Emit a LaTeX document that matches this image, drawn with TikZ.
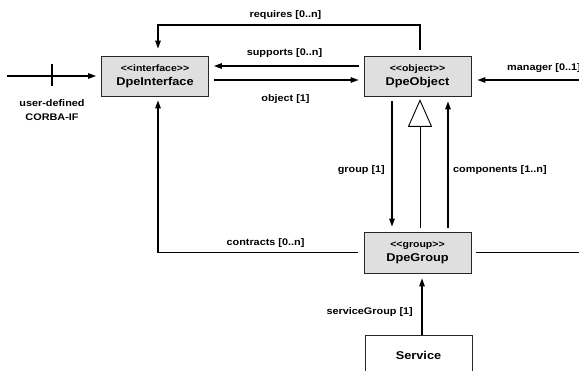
\documentclass[tikz,border=0pt]{standalone}
\usepackage{fontspec}
\setmainfont{Liberation Sans}[FakeStretch=1.13]
\usetikzlibrary{arrows.meta,calc}

% two-line class label: stereotype over class name
% (the kerns keep the doubled angle brackets from turning into guillemets)
\newcommand\umlclass[2]{{\fontsize{9.3}{11}\selectfont<\kern0pt<#1>\kern0pt>}\\[2pt]{\fontsize{11.3}{13}\selectfont #2}}

\begin{document}
\begin{tikzpicture}[x=1pt,y=-1pt,
  cls/.style={draw=black!85, line width=0.8pt, fill=gray!25,
    minimum width=107pt, minimum height=40pt, inner sep=0pt,
    align=center, font=\bfseries},
  plainbox/.style={cls, fill=white},
  link/.style={line width=1.4pt},
  arr/.style={link, -{Triangle[length=8pt,width=5.5pt]}},
  lbl/.style={font=\bfseries\fontsize{9.6}{11}\selectfont, inner sep=0pt},
]
\useasboundingbox (0,0) rectangle (579,371);
\clip (0,0) rectangle (579,371);

% classes
\node[cls] (iface) at (155,76) {\umlclass{interface}{DpeInterface}};
\node[cls] (obj) at (417.5,76) {\umlclass{object}{DpeObject}};
\node[cls, minimum height=41pt] (grp) at (417.5,252.5) {\umlclass{group}{DpeGroup}};
\node[plainbox, font=\bfseries\fontsize{11.3}{13}\selectfont] (svc) at (418.5,355) {Service};

% free ends leaving the picture
\coordinate (usr) at (7,76);
\coordinate (tickA) at (52,64);
\coordinate (tickB) at (52,86);
\coordinate (mgr) at (590,80);
\coordinate (grpout) at (590,252.5);
\coordinate (reqlevel) at (0,25);
\coordinate (reqstart) at ($(obj.north)+(2.5,-6)$);

% user-defined CORBA interface
\draw[arr] (usr) -- ($(iface.west)+(-5,0)$);
\draw[link] (tickA) -- (tickB);
\node[lbl, align=center] (usrlbl) at (52,110) {user-defined\\[3pt]CORBA-IF};

% requires
\draw[arr] (reqstart) -- (reqstart |- reqlevel) -| ($(iface.north)+(3,-7)$);
\node[lbl] (reqlbl) at (285.5,15) {requires [0..n]};

% supports / object
\draw[arr] ($(obj.west)+(-5,-10)$) -- ($(iface.east)+(5,-10)$);
\node[lbl] (suplbl) at (284.5,53) {supports [0..n]};
\draw[arr] ($(iface.east)+(5,4)$) -- ($(obj.west)+(-5,4)$);
\node[lbl] (objlbl) at (285.5,99) {object [1]};

% manager
\draw[arr] (mgr) -- ($(obj.east)+(6,4)$);
\node[lbl, anchor=west] (mgrlbl) at (507,68) {manager [0..1]};

% group / generalisation / components
\draw[arr] ($(obj.south)+(-25.5,5)$) -- ($(grp.north)+(-25.5,-5)$);
\node[lbl, anchor=east] (grplbl) at (385,170) {group [1]};
\draw[line width=0.9pt] ($(grp.north)+(2.5,-4)$) -- ($(obj.south)+(2.5,30)$);
\draw[line width=0.9pt, fill=white] ($(obj.south)+(2.5,4)$) -- ++(11.5,26) -- ++(-23,0) -- cycle;
\draw[arr] ($(grp.north)+(30.5,-4)$) -- ($(obj.south)+(30.5,5)$);
\node[lbl, anchor=west] (complbl) at (453,170) {components [1..n]};

% contracts
\draw[arr] ($(grp.west)+(-6,0)$) -| ($(iface.south)+(3,4)$);
\node[lbl] (conlbl) at (265.5,243) {contracts [0..n]};
\draw[link] ($(grp.east)+(5,0)$) -- (grpout);

% serviceGroup
\draw[arr] ($(svc.north)+(3.5,0)$) -- ($(grp.south)+(4.5,5)$);
\node[lbl, anchor=east] (svclbl) at (413,312) {serviceGroup [1]};
\end{tikzpicture}
\end{document}
